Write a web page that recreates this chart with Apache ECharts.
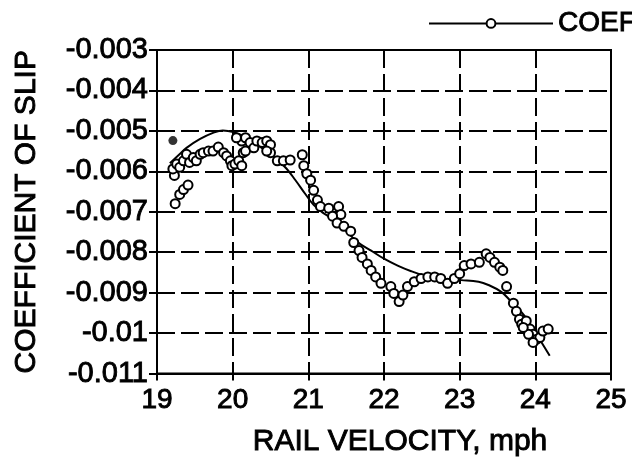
<!DOCTYPE html>
<html>
<head>
<meta charset="utf-8">
<style>
  html, body { margin: 0; padding: 0; background: #fff; }
  #chart { width: 632px; height: 462px; }
</style>
<script src="https://cdn.jsdelivr.net/npm/echarts@6/dist/echarts.min.js"></script>
</head>
<body>
<div id="chart"></div>
<script>
// Measured coefficient of slip against rail velocity (mph, coefficient)
const slipPoints = [
  [19.24, -0.00680], [19.30, -0.00657], [19.35, -0.00645], [19.41, -0.00634],
  [19.23, -0.00610], [19.21, -0.00594], [19.26, -0.00582], [19.30, -0.00590],
  [19.35, -0.00574], [19.39, -0.00558], [19.43, -0.00578], [19.48, -0.00566],
  [19.52, -0.00574], [19.57, -0.00558], [19.61, -0.00554], [19.68, -0.00550],
  [19.74, -0.00550], [19.81, -0.00540], [19.88, -0.00554], [19.92, -0.00562],
  [19.97, -0.00574], [19.99, -0.00586], [20.03, -0.00582], [20.08, -0.00574],
  [20.12, -0.00586], [20.14, -0.00554], [20.17, -0.00550], [20.12, -0.00525],
  [20.05, -0.00517], [20.17, -0.00517], [20.23, -0.00529], [20.28, -0.00542],
  [20.32, -0.00525], [20.39, -0.00529], [20.45, -0.00525], [20.50, -0.00534],
  [20.50, -0.00554], [20.45, -0.00550], [20.59, -0.00574], [20.67, -0.00574],
  [20.76, -0.00572], [20.92, -0.00559], [20.94, -0.00586], [20.98, -0.00606],
  [21.03, -0.00622], [21.07, -0.00647], [21.12, -0.00671], [21.16, -0.00687],
  [21.27, -0.00691], [21.40, -0.00687], [21.43, -0.00707], [21.32, -0.00711],
  [21.38, -0.00728], [21.47, -0.00736], [21.56, -0.00748], [21.60, -0.00776],
  [21.67, -0.00796], [21.71, -0.00813], [21.78, -0.00829], [21.83, -0.00845],
  [21.89, -0.00861], [21.96, -0.00877], [22.09, -0.00885], [22.13, -0.00902],
  [22.20, -0.00922], [22.25, -0.00906], [22.31, -0.00885], [22.40, -0.00873],
  [22.49, -0.00865], [22.58, -0.00861], [22.67, -0.00861], [22.75, -0.00865],
  [22.84, -0.00877], [22.93, -0.00865], [23.00, -0.00853], [23.06, -0.00833],
  [23.15, -0.00829], [23.26, -0.00825], [23.35, -0.00804], [23.40, -0.00813],
  [23.46, -0.00825], [23.53, -0.00837], [23.57, -0.00845], [23.62, -0.00885],
  [23.71, -0.00926], [23.75, -0.00946], [23.79, -0.00966], [23.82, -0.00978],
  [23.88, -0.00970], [23.93, -0.00990], [23.97, -0.01003], [24.02, -0.01015],
  [24.06, -0.01011], [24.10, -0.00995], [24.17, -0.00990], [23.91, -0.01003],
  [23.84, -0.00986], [23.97, -0.01023]
];

// Single reading drawn as a filled dot
const filledPoint = [[19.21, -0.00524]];

// Smoothed fit through the readings
const fitCurve = [
  [19.17, -0.00580], [19.28, -0.00561], [19.39, -0.00542], [19.57, -0.00520],
  [19.74, -0.00505], [19.87, -0.00499], [20.01, -0.00503], [20.17, -0.00515],
  [20.31, -0.00532], [20.47, -0.00554], [20.60, -0.00573], [20.71, -0.00593],
  [20.83, -0.00622], [20.96, -0.00656], [21.07, -0.00683], [21.19, -0.00702],
  [21.33, -0.00719], [21.49, -0.00745], [21.65, -0.00775], [21.83, -0.00796],
  [22.00, -0.00816], [22.18, -0.00833], [22.36, -0.00847], [22.52, -0.00857],
  [22.66, -0.00862], [22.85, -0.00867], [23.02, -0.00869], [23.25, -0.00873],
  [23.38, -0.00881], [23.55, -0.00898], [23.68, -0.00922], [23.82, -0.00949],
  [23.91, -0.00971], [24.04, -0.01010], [24.19, -0.01056]
];

const xTicks = ['19', '20', '21', '22', '23', '24', '25'];
const yTicks = ['-0.011', '-0.01', '-0.009', '-0.008', '-0.007', '-0.006', '-0.005', '-0.004', '-0.003'];

const seriesName = 'COEFFICIENT OF SLIP';

// Regular Arial-metric face with a thin outline for heavier strokes
const text = (size, extra) => Object.assign({
  fontFamily: 'Liberation Sans, Arial, sans-serif',
  fontSize: size,
  color: '#000',
  textBorderColor: '#000',
  textBorderWidth: 0.9
}, extra || {});

const chart = echarts.init(document.getElementById('chart'), null, { renderer: 'canvas' });

const xBase = { type: 'value', min: 19, max: 25, interval: 1 };
const yBase = { type: 'value', min: -0.011, max: -0.003, interval: 0.001 };
const dash = { color: '#000', width: 2, type: [18, 6] };

chart.setOption({
  backgroundColor: '#fff',
  animation: false,
  grid: {
    left: 157, right: 21, top: 50, bottom: 82,
    show: true, borderColor: '#000', borderWidth: 2, backgroundColor: 'transparent'
  },
  legend: {
    data: [seriesName],
    left: 428, top: 9, padding: 0,
    itemWidth: 124, itemHeight: 11,
    textStyle: text(28),
    lineStyle: { width: 2, color: '#000', opacity: 1 }
  },
  xAxis: [
    Object.assign({}, xBase, {
      position: 'bottom',
      name: 'RAIL VELOCITY, mph',
      nameLocation: 'middle',
      nameGap: 53,
      nameTextStyle: text(30, { padding: [0, 0, 0, 32] }),
      axisLine: { lineStyle: { color: '#000', width: 2 } },
      axisTick: { inside: false, length: 7, lineStyle: { color: '#000', width: 2 } },
      axisLabel: Object.assign(text(28), {
        margin: 13,
        formatter: v => xTicks[Math.round(v - 19)]
      }),
      splitLine: { show: true, lineStyle: dash }
    }),
    Object.assign({}, xBase, {
      position: 'bottom',
      axisLine: { show: false },
      axisTick: { inside: true, length: 7, lineStyle: { color: '#000', width: 2 } },
      axisLabel: { show: false },
      splitLine: { show: false }
    })
  ],
  yAxis: [
    Object.assign({}, yBase, {
      position: 'left',
      name: 'COEFFICIENT OF SLIP',
      nameLocation: 'middle',
      nameGap: 115,
      nameTextStyle: text(30),
      axisLine: { lineStyle: { color: '#000', width: 2 } },
      axisTick: { inside: false, length: 8, lineStyle: { color: '#000', width: 2 } },
      axisLabel: Object.assign(text(29), {
        margin: 9,
        formatter: v => yTicks[Math.round((v + 0.011) * 1000)]
      }),
      splitLine: { show: true, lineStyle: dash }
    }),
    Object.assign({}, yBase, {
      position: 'left',
      axisLine: { show: false },
      axisTick: { inside: true, length: 8, lineStyle: { color: '#000', width: 2 } },
      axisLabel: { show: false },
      splitLine: { show: false }
    })
  ],
  series: [
    {
      name: 'fit',
      type: 'line',
      data: fitCurve,
      smooth: 0.4,
      showSymbol: false,
      symbol: 'none',
      lineStyle: { color: '#000', width: 2 },
      z: 2
    },
    {
      name: seriesName,
      type: 'line',
      data: slipPoints,
      symbol: 'emptyCircle',
      symbolSize: 9,
      showSymbol: true,
      lineStyle: { width: 0, opacity: 0 },
      itemStyle: { color: '#000', borderColor: '#000', borderWidth: 2.5 },
      z: 3
    },
    {
      name: 'single',
      type: 'scatter',
      data: filledPoint,
      symbol: 'circle',
      symbolSize: 9,
      itemStyle: { color: '#000' },
      z: 3
    }
  ]
});
</script>
</body>
</html>
